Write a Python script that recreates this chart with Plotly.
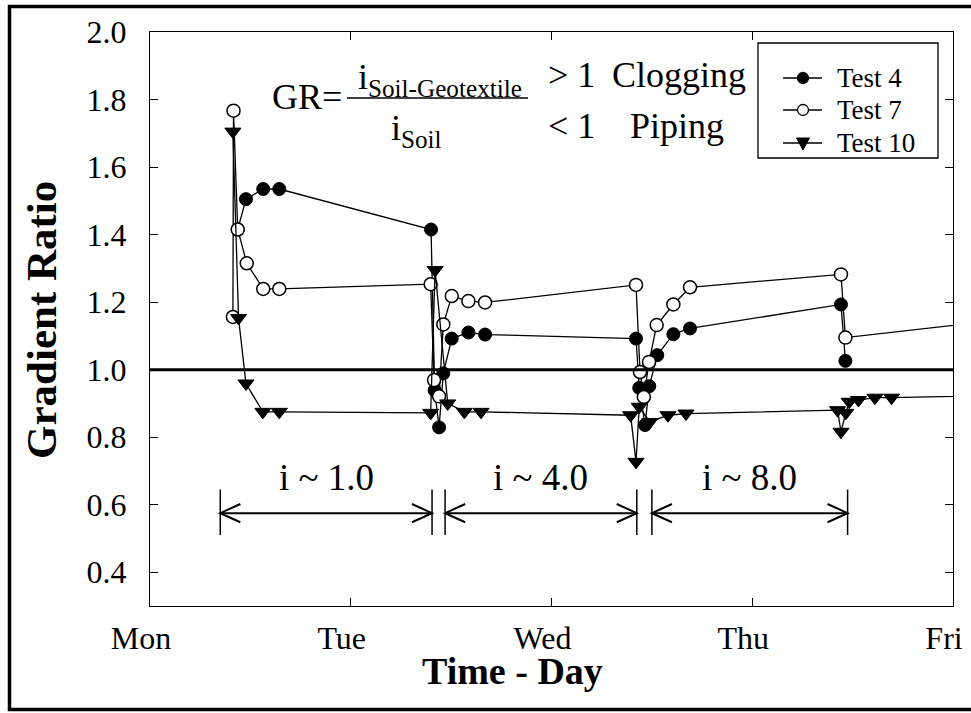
import plotly.graph_objects as go

FONT = "Liberation Serif"

# Elapsed time (days from Monday 00:00) and gradient ratio for each test
test4_day = [0.437, 0.478, 0.564, 0.644, 1.400, 1.418, 1.440, 1.461, 1.503, 1.586,
             1.669, 2.421, 2.437, 2.466, 2.487, 2.527, 2.607, 2.690, 3.442, 3.464]
test4_gr = [1.415, 1.505, 1.535, 1.535, 1.415, 0.939, 0.829, 0.989, 1.092, 1.110,
            1.104, 1.092, 0.946, 0.836, 0.951, 1.043, 1.105, 1.122, 1.193, 1.026]

test7_day = [0.413, 0.416, 0.437, 0.482, 0.564, 0.644, 1.398, 1.415, 1.440, 1.461,
             1.503, 1.586, 1.669, 2.421, 2.441, 2.460, 2.486, 2.524, 2.607, 2.690,
             3.442, 3.464, 4.400]
test7_gr = [1.156, 1.767, 1.415, 1.315, 1.239, 1.239, 1.253, 0.969, 0.921, 1.134,
            1.218, 1.203, 1.199, 1.251, 0.993, 0.919, 1.023, 1.132, 1.193, 1.244,
            1.282, 1.095, 1.158]

test10_day = [0.413, 0.441, 0.478, 0.562, 0.644, 1.398, 1.420, 1.483, 1.566, 1.649,
              2.394, 2.421, 2.437, 2.490, 2.580, 2.670, 3.425, 3.442, 3.466, 3.483,
              3.529, 3.611, 3.694, 4.400]
test10_gr = [1.705, 1.153, 0.959, 0.875, 0.875, 0.872, 1.295, 0.900, 0.875, 0.875,
             0.865, 0.727, 0.890, 0.845, 0.865, 0.870, 0.880, 0.816, 0.872, 0.905,
             0.910, 0.917, 0.917, 0.926]

series_names = ["Test 4", "Test 7", "Test 10"]

# Hydraulic gradient stages (start/end day) and their labels
stage_start = [0.350, 1.470, 2.500]
stage_end = [1.405, 2.425, 3.475]
stage_labels = ["i ~ 1.0", "i ~ 4.0", "i ~ 8.0"]

day_ticks = [0, 1, 2, 3, 4]
day_labels = ["Mon", "Tue", "Wed", "Thu", "Fri"]
gr_ticks = [0.4, 0.6, 0.8, 1.0, 1.2, 1.4, 1.6, 1.8, 2.0]

W, H = 971, 713
ML, MR, MT, MB = 150, 18, 32, 107
PW, PH = W - ML - MR, H - MT - MB


def px_x(px):
    return (px - ML) / PW


def px_y(py):
    return (H - MB - py) / PH


fig = go.Figure()

line_style = dict(color="black", width=1.3)
marker_styles = [
    dict(symbol="circle", size=13, color="black", line=dict(color="black", width=1)),
    dict(symbol="circle", size=13, color="white", line=dict(color="black", width=1.5)),
    dict(symbol="triangle-down", size=14, color="black", line=dict(color="black", width=1)),
]
for name, xs, ys, mk in zip(series_names,
                            [test4_day, test7_day, test10_day],
                            [test4_gr, test7_gr, test10_gr],
                            marker_styles):
    fig.add_trace(go.Scatter(x=xs, y=ys, mode="lines+markers", name=name,
                             line=line_style, marker=mk, showlegend=False))

shapes = []
annotations = []

# GR = 1 reference line
shapes.append(dict(type="line", xref="paper", yref="y", x0=0, x1=1, y0=1.0, y1=1.0,
                   line=dict(color="black", width=3)))

# Stage arrows
arrow_y, bar_lo, bar_hi, label_y = 0.575, 0.510, 0.645, 0.680
head_dx, head_dy = 0.10, 0.027
for s, e, lab in zip(stage_start, stage_end, stage_labels):
    shapes.append(dict(type="line", x0=s, x1=e, y0=arrow_y, y1=arrow_y,
                       line=dict(color="black", width=2)))
    for xb in (s, e):
        shapes.append(dict(type="line", x0=xb, x1=xb, y0=bar_lo, y1=bar_hi,
                           line=dict(color="black", width=1.5)))
    shapes.append(dict(type="path",
                       path=f"M {s + head_dx},{arrow_y + head_dy} L {s},{arrow_y} L {s + head_dx},{arrow_y - head_dy}",
                       line=dict(color="black", width=2)))
    shapes.append(dict(type="path",
                       path=f"M {e - head_dx},{arrow_y + head_dy} L {e},{arrow_y} L {e - head_dx},{arrow_y - head_dy}",
                       line=dict(color="black", width=2)))
    annotations.append(dict(x=(s + e) / 2, y=label_y, xref="x", yref="y", text=lab,
                            showarrow=False, font=dict(family=FONT, size=37, color="black")))

# Equation: fraction bar
shapes.append(dict(type="line", xref="paper", yref="paper",
                   x0=px_x(347), x1=px_x(528), y0=px_y(98), y1=px_y(98),
                   line=dict(color="black", width=1.5)))

# Legend frame, line samples and symbols
shapes.append(dict(type="rect", xref="paper", yref="paper",
                   x0=px_x(758), x1=px_x(938), y0=px_y(158), y1=px_y(43),
                   line=dict(color="black", width=1.3), fillcolor="white", layer="below"))
legend_rows = [78, 110, 143]
lx0, lx1, lxm, r = 783, 822, 803, 5.5
for i, (name, ly) in enumerate(zip(series_names, legend_rows)):
    shapes.append(dict(type="line", xref="paper", yref="paper",
                       x0=px_x(lx0), x1=px_x(lx1), y0=px_y(ly), y1=px_y(ly),
                       line=dict(color="black", width=1.3)))
    if i < 2:
        shapes.append(dict(type="circle", xref="paper", yref="paper",
                           x0=px_x(lxm - r), x1=px_x(lxm + r),
                           y0=px_y(ly + r), y1=px_y(ly - r),
                           fillcolor="black" if i == 0 else "white",
                           line=dict(color="black", width=1.3)))
    else:
        tri = (f"M {px_x(lxm - 6.5)},{px_y(ly - 5)} L {px_x(lxm + 6.5)},{px_y(ly - 5)} "
               f"L {px_x(lxm)},{px_y(ly + 7)} Z")
        shapes.append(dict(type="path", xref="paper", yref="paper", path=tri,
                           fillcolor="black", line=dict(color="black", width=1)))
    annotations.append(dict(x=px_x(835), y=px_y(ly), xref="paper", yref="paper",
                            text=name, showarrow=False, xanchor="left", yanchor="middle",
                            font=dict(family=FONT, size=27, color="black")))

# Outer frame
shapes.append(dict(type="rect", xref="paper", yref="paper",
                   x0=px_x(9.5), x1=px_x(990), y0=px_y(709.5), y1=px_y(6.5),
                   line=dict(color="black", width=3.5)))

eq_font = dict(family=FONT, size=36, color="black")


def note(text, px, py, xanchor="center", font=eq_font):
    annotations.append(dict(x=px_x(px), y=px_y(py), xref="paper", yref="paper", text=text,
                            showarrow=False, xanchor=xanchor, yanchor="middle", font=font))


note("GR=", 344, 97, xanchor="right")
note("i<sub>Soil-Geotextile</sub>", 440, 80)
note("i<sub>Soil</sub>", 416, 130)
note("&gt; 1", 571, 75)
note("&lt; 1", 571, 126)
note("Clogging", 679, 75)
note("Piping", 677, 126)

# Axis titles
annotations.append(dict(x=px_x(512), y=px_y(671), xref="paper", yref="paper",
                        text="<b>Time - Day</b>", showarrow=False,
                        font=dict(family=FONT, size=38, color="black"),
                        xanchor="center", yanchor="middle"))
annotations.append(dict(x=px_x(41), y=px_y(320), xref="paper", yref="paper",
                        text="<b>Gradient Ratio</b>", showarrow=False,
                        font=dict(family=FONT, size=43, color="black"),
                        textangle=-90, xanchor="center", yanchor="middle"))

axis_common = dict(showline=True, linecolor="black", linewidth=1.3, mirror="ticks",
                   ticks="inside", ticklen=8, tickwidth=1.3, tickcolor="black",
                   showgrid=False, zeroline=False, ticklabeloverflow="allow",
                   automargin=False,
                   tickfont=dict(family=FONT, size=32, color="black"))

fig.update_layout(
    width=W, height=H,
    margin=dict(l=ML, r=MR, t=MT, b=MB, autoexpand=False),
    paper_bgcolor="white", plot_bgcolor="white",
    xaxis=dict(range=[0, 4], tickvals=day_ticks, ticktext=day_labels,
               ticklabelstandoff=3, ticklabelshift=-9, **axis_common),
    yaxis=dict(range=[0.3, 2.0], tickvals=gr_ticks,
               ticktext=[f"{v:.1f}" for v in gr_ticks],
               ticklabelstandoff=16, **axis_common),
    showlegend=False,
    shapes=shapes,
    annotations=annotations,
)

fig.write_html("out.html")
